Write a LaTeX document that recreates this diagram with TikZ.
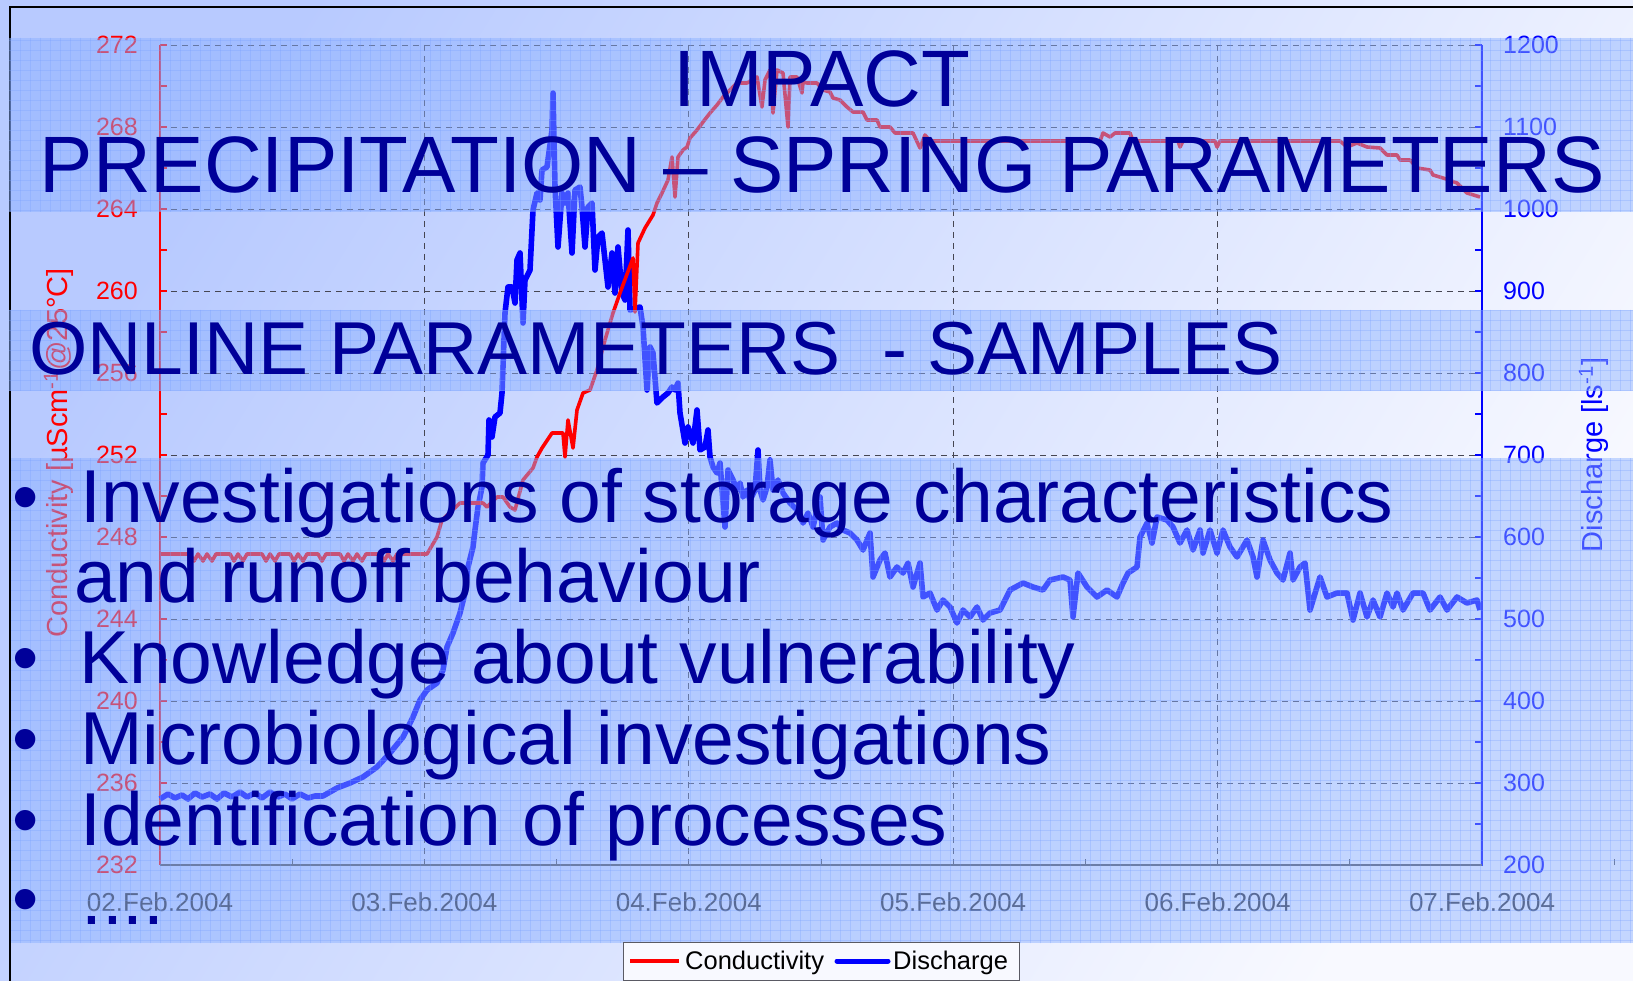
\documentclass[tikz,border=0pt]{standalone}
\usepackage{fontspec}
\setmainfont{Liberation Sans}
\definecolor{bgA}{RGB}{184,202,255}
\definecolor{bgB}{RGB}{248,249,255}
\definecolor{bandfill}{RGB}{138,176,255}
\definecolor{bandgrid}{RGB}{120,160,255}
\definecolor{headblue}{RGB}{0,0,153}
\definecolor{gridgray}{RGB}{70,70,82}
\definecolor{axisgray}{RGB}{80,80,90}
\definecolor{dategray}{RGB}{45,45,55}
\definecolor{condred}{RGB}{255,0,0}
\definecolor{disblue}{RGB}{0,0,255}
\definecolor{legendgray}{RGB}{90,90,100}
\definecolor{legendfill}{RGB}{248,249,255}
\begin{document}
\begin{tikzpicture}[x=1pt,y=-1pt,
  gridline/.style={gridgray,line width=0.9pt,dash pattern=on 6pt off 5pt},
  ticklbl/.style={inner sep=0pt,font=\fontsize{25}{29}\selectfont},
  datelbl/.style={inner sep=0pt,font=\fontsize{26}{30}\selectfont,text=dategray},
  axtitle/.style={inner sep=0pt,rotate=90,anchor=base,font=\fontsize{29}{34}\selectfont},
  legtxt/.style={inner sep=0pt,anchor=base west,font=\fontsize{25.5}{29}\selectfont,text=black},
  band/.style={bandfill,opacity=0.47},
  headtxt/.style={inner sep=0pt,text=headblue,font=\fontsize{80}{90}\selectfont},
  subtxt/.style={inner sep=0pt,text=headblue,font=\fontsize{75}{86}\selectfont},
  bodytxt/.style={inner sep=0pt,text=headblue,anchor=base west,font=\fontsize{75}{85}\selectfont},
  bulletmark/.style={inner sep=0pt,text=headblue,anchor=base,font=\fontsize{75}{85}\selectfont},
  condline/.style={condred,line width=3.6pt,line join=round},
  disline/.style={disblue,line width=5.6pt,line join=round},
]
\useasboundingbox (0,0) rectangle (1633,981);
% page background
\shade[top color=bgA,bottom color=bgB,shading angle=58] (0,0) rectangle (1633,981);
% slide frame
\draw[black,line width=1.6pt] (10,981) -- (10,7) -- (1633,7);

% chart grid
\foreach \gy in {45,127,...,783} \draw[gridline] (160,\gy) -- (1482,\gy);
\foreach \i in {1,...,4} \draw[gridline] ({160+\i*264.4},45) -- ({160+\i*264.4},865);

% axes and ticks
\draw[condred,line width=1.8pt] (160,45) -- (160,865);
\foreach \k in {0,...,20} \draw[condred,line width=1.3pt] (160,{45+\k*41}) -- (167,{45+\k*41});
\draw[disblue,line width=2.2pt] (1482,45) -- (1482,866);
\foreach \k in {0,...,20} \draw[disblue,line width=1.3pt] (1482,{45+\k*41}) -- (1475,{45+\k*41});
\draw[axisgray,line width=1.4pt] (160,865) -- (1482,865);
\foreach \i in {0,...,9} \draw[axisgray,line width=1pt] ({160+(\i+0.5)*264.4},865) -- ++(0,-6);

% tick labels
\foreach \v [count=\k from 0] in {272,268,...,232}
  \node[ticklbl,text=condred,anchor=east] (cl\v) at (138,{45+\k*82}) {\v};
\foreach \v [count=\k from 0] in {1200,1100,...,200}
  \node[ticklbl,text=disblue,anchor=west] (ql\v) at (1503,{45+\k*82}) {\v};
\foreach \d [count=\k from 0] in {02,03,04,05,06,07}
  \node[datelbl] (date\d) at ({160+\k*264.4},902) {\d.Feb.2004};

% axis titles
\node[axtitle,text=condred] (condtitle) at (67,453) {Conductivity [µScm\textsuperscript{-1}@25°C]};
\node[axtitle,text=disblue] (distitle) at (1602,455) {Discharge [ls\textsuperscript{-1}]};

% discharge series
\draw[disline] plot coordinates {
 (160,799) (168,794) (175,798) (182,795) (188,799) (195,793) (202,797) (210,794)
 (217,799) (224,793) (232,797) (240,792) (247,797) (255,793) (262,798) (270,792)
 (278,797) (285,794) (292,799) (300,794) (308,798) (315,796) (323,796)
 (337,788) (350,783) (363,777) (377,767) (390,753) (403,737) (413,717) (420,700)
 (427,690) (437,683) (443,670) (447,647) (453,633) (460,613) (465,593) (468,567)
 (473,547) (475,530) (478,507) (482,487) (483,463) (488,455) (489,420) (492,437)
 (495,417) (500,413) (502,393) (505,313) (508,287) (512,287) (515,303) (517,260)
 (520,253) (523,323) (525,280) (530,270) (533,210) (537,193) (540,200) (542,170)
 (547,167) (552,130) (553,93) (555,187) (558,247) (562,193) (565,203) (568,193)
 (572,253) (575,190) (580,187) (582,207) (585,247) (588,207) (592,203) (595,270)
 (598,237) (602,233) (605,260) (608,287) (612,253) (615,293) (618,247) (622,293)
 (625,300) (628,230) (630,310) (637,308) (640,307) (643,327) (647,390) (650,347)
 (653,353) (657,403) (663,397) (668,393) (672,387) (675,390) (678,383) (680,413)
 (685,443) (688,427) (693,443) (697,410) (700,450) (705,447) (708,430) (710,457)
 (713,467) (717,473) (720,463) (725,527) (728,470) (733,480) (737,490) (740,483)
 (743,497) (747,490) (750,500) (755,490) (758,450) (760,490) (763,500) (767,487)
 (770,460) (773,490) (778,480) (783,493) (790,503) (797,510) (803,523) (808,513)
 (813,527) (820,497) (823,540) (830,527) (837,523) (843,530) (850,533) (857,540)
 (863,550) (870,533) (873,577) (880,560) (885,553) (890,577) (897,567) (903,573)
 (908,563) (913,587) (920,563) (923,597) (930,593) (937,610) (943,600) (950,607)
 (957,623) (963,610) (970,617) (977,607) (983,620) (990,613) (1000,610) (1010,590)
 (1023,583) (1033,587) (1043,590) (1050,580) (1063,577) (1070,580) (1073,617) (1078,573)
 (1087,587) (1097,597) (1107,590) (1117,597) (1123,583) (1128,573) (1137,567) (1140,537)
 (1147,523) (1152,543) (1157,517) (1167,520) (1173,527) (1180,543) (1187,530) (1193,550)
 (1200,530) (1203,553) (1210,530) (1217,553) (1223,530) (1230,547) (1237,557) (1247,540)
 (1253,557) (1257,577) (1263,540) (1270,560) (1277,573) (1283,580) (1290,553) (1293,580)
 (1300,567) (1305,563) (1310,610) (1320,577) (1327,597) (1337,593) (1347,593) (1353,620)
 (1360,593) (1367,617) (1373,600) (1380,617) (1387,593) (1393,607) (1397,593) (1403,610)
 (1413,593) (1423,593) (1430,610) (1440,597) (1447,610) (1457,597) (1467,603) (1477,600)
 (1480,610)};

% conductivity series
\draw[condline] plot coordinates {
 (160,554) (190,554) (194,561) (198,554) (203,561) (207,554) (212,561) (216,554)
 (230,554) (234,561) (238,554) (243,561) (247,554) (262,554) (266,561) (270,554)
 (275,561) (279,554) (290,554) (294,561) (298,554) (303,561) (307,554) (318,554)
 (322,561) (326,554) (340,554) (344,561) (348,554) (353,561) (357,554) (362,561)
 (366,554) (380,554) (384,561) (388,554) (393,561) (397,554) (427,554)
 (437,537) (442,520) (460,503) (483,503) (487,507) (497,497) (503,497) (510,507)
 (515,510) (523,480) (533,468) (537,457) (542,448) (552,433) (563,433) (565,457)
 (568,420) (573,448) (577,410) (583,393) (590,390) (597,370) (605,340) (613,313)
 (620,293) (633,258) (635,312) (638,243) (645,228) (653,215) (657,203) (662,193)
 (668,180) (672,157) (675,197) (678,157) (683,150) (687,147) (690,138) (697,130)
 (703,122) (710,113) (717,105) (723,97) (730,90) (737,83) (747,83) (757,77)
 (762,107) (765,80) (770,70) (773,113) (777,70) (783,73) (788,127) (790,77)
 (797,77) (802,93) (803,82) (807,83) (817,83) (823,90) (830,92) (833,98)
 (840,100) (847,107) (853,112) (863,112) (867,120) (877,120) (880,127) (890,127)
 (895,133) (913,133) (920,148) (925,135) (930,141) (1100,141) (1103,133) (1110,137)
 (1115,133) (1130,133) (1133,141) (1178,141) (1180,147) (1183,141) (1215,141) (1217,147)
 (1220,141) (1340,141) (1347,147) (1357,143) (1367,147) (1380,148) (1387,155) (1397,155)
 (1400,160) (1410,160) (1417,168) (1430,170) (1433,175) (1443,178) (1457,183) (1467,193)
 (1480,197)};

% translucent text bands with their fine grid
\fill[band] (9,38) rectangle (1633,212);
\fill[band] (9,310) rectangle (1633,391);
\fill[band] (11,458) rectangle (1633,943);
\begin{scope}
  \clip (9,38) rectangle (1633,212) (9,310) rectangle (1633,391) (11,458) rectangle (1633,943);
  \foreach \gx in {10,20,...,1630} \draw[bandgrid,opacity=0.3,line width=0.8pt] (\gx,30) -- (\gx,950);
  \foreach \gy in {40,50,...,940} \draw[bandgrid,opacity=0.3,line width=0.8pt] (0,\gy) -- (1633,\gy);
\end{scope}

% legend
\node[draw=legendgray,fill=legendfill,line width=0.9pt,minimum width=396pt,minimum height=38pt,inner sep=0pt,anchor=north west] (legend) at (623,942) {};
\coordinate (condA) at (630,961);
\coordinate (condB) at (679,961);
\coordinate (disA) at (837,961);
\coordinate (disB) at (888,961);
\draw[condred,line width=3.4pt] (condA) -- (condB);
\node[legtxt] (legcond) at (685,969) {Conductivity};
\draw[disblue,line width=5pt,line cap=round] (disA) -- (disB);
\node[legtxt] (legdis) at (893,969) {Discharge};

% headings
\node[headtxt,anchor=base] (head1) at (822,107) {IMPACT};
\node[headtxt,anchor=base] (head2) at (822,193) {PRECIPITATION – SPRING PARAMETERS};
\node[subtxt,anchor=base west] (head3) at (29,375) {ONLINE PARAMETERS\ \ - SAMPLES};

% bullet list
\node[bulletmark] (bul1) at (26,522) {•};
\node[bodytxt] (item1) at (80,522) {Investigations of storage characteristics};
\node[bodytxt] (item1b) at (74,602) {and runoff behaviour};
\node[bulletmark] (bul2) at (26,683) {•};
\node[bodytxt] (item2) at (79,683) {Knowledge about vulnerability};
\node[bulletmark] (bul3) at (26,764) {•};
\node[bodytxt] (item3) at (80,764) {Microbiological investigations};
\node[bulletmark] (bul4) at (26,845) {•};
\node[bodytxt] (item4) at (80,845) {Identification of processes};
\node[bulletmark] (bul5) at (26,924) {•};
\node[bodytxt] (item5) at (81,924) {....};
\end{tikzpicture}
\end{document}
